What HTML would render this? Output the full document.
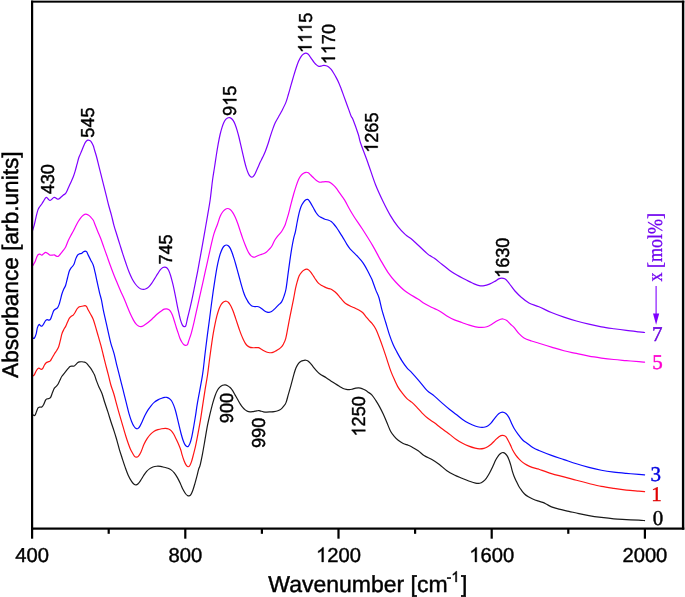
<!DOCTYPE html>
<html><head><meta charset="utf-8"><title>FTIR absorbance spectra</title>
<style>
html,body{margin:0;padding:0;background:#fff;}
body{width:685px;height:597px;overflow:hidden;font-family:"Liberation Sans",sans-serif;}
svg{display:block;will-change:transform;}
.t{font-family:"Liberation Sans",sans-serif;fill:#000;stroke:#000;stroke-width:0.42;text-rendering:geometricPrecision;}
.g1{vector-effect:non-scaling-stroke;}
.s{font-family:"Liberation Serif",serif;text-rendering:geometricPrecision;}
.c{fill:none;stroke-width:1.2;stroke-linejoin:round;stroke-linecap:round;}
</style></head><body>
<svg width="685" height="597" viewBox="0 0 685 597">
<rect x="0" y="0" width="685" height="597" fill="#fff"/>
<g class="c">
<path stroke="#1a1a1a" d="M32.76 414.87C33.12 414.97 34.28 416.00 34.91 415.43C35.53 414.85 36.01 412.66 36.54 411.41C37.06 410.15 37.48 408.63 38.04 407.89C38.61 407.16 39.30 407.16 39.93 407.02C40.55 406.87 41.18 407.43 41.81 407.02C42.44 406.60 43.07 405.65 43.69 404.50C44.32 403.35 45.01 401.05 45.58 400.11C46.14 399.17 46.56 399.11 47.08 398.85C47.61 398.60 48.13 398.85 48.72 398.60C49.30 398.35 49.97 398.35 50.60 397.35C51.23 396.34 51.85 394.10 52.48 392.58C53.11 391.05 53.74 389.23 54.37 388.18C54.99 387.14 55.62 386.99 56.25 386.30C56.88 385.61 57.50 385.09 58.13 384.04C58.76 382.99 59.39 381.32 60.02 380.02C60.64 378.72 60.96 377.67 61.90 376.26C62.84 374.85 64.62 372.87 65.66 371.56C66.71 370.26 67.44 369.26 68.18 368.42C68.91 367.59 69.43 366.92 70.06 366.54C70.69 366.16 71.31 366.23 71.94 366.16C72.57 366.10 73.20 366.42 73.83 366.16C74.45 365.91 75.08 365.22 75.71 364.66C76.34 364.09 76.96 363.23 77.59 362.77C78.22 362.31 78.74 362.06 79.48 361.90C80.21 361.73 81.15 361.73 81.99 361.77C82.82 361.81 83.76 361.92 84.50 362.15C85.23 362.38 85.75 362.63 86.38 363.15C87.01 363.67 87.53 364.41 88.26 365.29C89.00 366.16 90.04 367.38 90.77 368.42C91.51 369.47 92.03 370.47 92.66 371.56C93.29 372.65 93.91 373.44 94.54 374.95C95.17 376.47 95.69 378.65 96.42 380.65C97.16 382.65 97.99 384.73 98.94 386.93C99.88 389.12 101.13 391.32 102.07 393.83C103.02 396.34 103.64 399.06 104.59 401.99C105.53 404.92 106.68 408.17 107.72 411.41C108.77 414.65 109.82 418.21 110.86 421.45C111.91 424.70 113.06 427.94 114.00 430.87C114.94 433.80 115.62 435.95 116.51 439.03C117.40 442.11 118.39 446.17 119.34 449.37C120.28 452.57 121.17 455.16 122.16 458.20C123.15 461.25 124.25 464.69 125.30 467.62C126.35 470.55 127.39 473.48 128.44 475.78C129.48 478.08 130.64 480.03 131.58 481.43C132.52 482.83 133.36 483.63 134.09 484.19C134.82 484.76 135.34 484.86 135.97 484.82C136.60 484.78 137.12 484.61 137.85 483.94C138.59 483.27 139.42 482.16 140.37 480.80C141.31 479.44 142.46 477.35 143.50 475.78C144.55 474.21 145.60 472.58 146.64 471.39C147.69 470.19 148.74 469.36 149.78 468.63C150.83 467.89 151.77 467.39 152.92 466.99C154.07 466.60 155.43 466.34 156.69 466.24C157.94 466.14 159.20 466.20 160.45 466.37C161.71 466.53 162.96 466.93 164.22 467.24C165.48 467.56 166.84 467.81 167.99 468.25C169.14 468.69 170.08 469.11 171.12 469.88C172.17 470.65 173.22 471.60 174.26 472.89C175.31 474.19 176.36 475.82 177.40 477.66C178.45 479.51 179.60 481.95 180.54 483.94C181.48 485.93 182.22 487.96 183.05 489.59C183.89 491.22 184.83 492.75 185.56 493.74C186.30 494.72 186.86 495.14 187.45 495.49C188.03 495.85 188.51 496.02 189.08 495.87C189.64 495.72 190.21 495.56 190.84 494.61C191.46 493.67 192.15 492.10 192.84 490.22C193.54 488.34 194.31 485.62 194.98 483.31C195.65 481.01 196.23 478.82 196.86 476.41C197.49 474.00 198.22 470.66 198.75 468.88C199.27 467.09 199.37 468.23 200.00 465.72C200.63 463.20 201.73 457.84 202.51 453.79C203.30 449.73 203.87 446.15 204.71 441.39C205.55 436.63 206.64 429.80 207.53 425.22C208.42 420.64 209.21 417.48 210.04 413.92C210.88 410.36 211.72 406.91 212.55 403.88C213.39 400.84 214.23 398.02 215.07 395.72C215.90 393.41 216.74 391.53 217.58 390.07C218.41 388.60 219.25 387.72 220.09 386.93C220.92 386.13 221.76 385.65 222.60 385.30C223.44 384.94 224.27 384.73 225.11 384.79C225.95 384.86 226.78 385.21 227.62 385.67C228.46 386.13 229.29 386.72 230.13 387.55C230.97 388.39 231.81 389.44 232.64 390.69C233.48 391.95 234.32 393.62 235.15 395.09C235.99 396.55 236.83 398.02 237.66 399.48C238.50 400.95 239.34 402.56 240.18 403.88C241.01 405.19 241.85 406.39 242.69 407.39C243.52 408.40 244.36 409.23 245.20 409.90C246.03 410.57 246.87 411.10 247.71 411.41C248.55 411.72 249.38 411.74 250.22 411.79C251.06 411.83 251.89 411.77 252.73 411.66C253.57 411.56 254.40 411.30 255.24 411.16C256.08 411.01 257.12 410.89 257.75 410.78C258.38 410.68 258.49 410.47 259.01 410.53C259.53 410.59 260.16 410.95 260.89 411.16C261.62 411.37 262.46 411.64 263.40 411.79C264.34 411.93 265.39 412.02 266.54 412.04C267.69 412.06 269.05 411.97 270.31 411.91C271.56 411.85 272.82 411.85 274.07 411.66C275.33 411.47 276.69 411.20 277.84 410.78C278.99 410.36 280.04 409.88 280.98 409.15C281.92 408.42 282.65 407.48 283.49 406.39C284.33 405.30 285.16 404.71 286.00 402.62C286.84 400.53 287.67 396.76 288.51 393.83C289.35 390.90 290.08 388.45 291.02 385.04C291.96 381.64 293.32 376.30 294.16 373.42C295.00 370.55 295.31 369.45 296.04 367.77C296.78 366.10 297.72 364.47 298.55 363.38C299.39 362.29 300.23 361.73 301.07 361.25C301.90 360.76 302.78 360.66 303.58 360.49C304.37 360.33 305.10 360.14 305.84 360.24C306.57 360.35 307.20 360.60 307.97 361.12C308.75 361.64 309.65 362.48 310.48 363.38C311.32 364.28 312.05 365.37 312.99 366.52C313.93 367.67 315.09 369.13 316.13 370.29C317.18 371.44 317.60 372.18 319.27 373.42C320.94 374.67 324.29 376.56 326.18 377.76C328.06 378.97 329.11 379.69 330.57 380.65C332.03 381.61 333.50 382.60 334.96 383.54C336.43 384.48 338.00 385.48 339.36 386.30C340.72 387.12 341.97 387.91 343.12 388.43C344.28 388.96 345.22 389.23 346.26 389.44C347.31 389.65 348.36 389.75 349.40 389.69C350.45 389.63 351.49 389.31 352.54 389.06C353.59 388.81 354.63 388.37 355.68 388.18C356.73 387.99 357.77 387.87 358.82 387.93C359.86 387.99 360.91 388.20 361.96 388.56C363.00 388.92 364.05 389.46 365.10 390.07C366.14 390.67 367.08 391.36 368.23 392.20C369.39 393.04 370.75 393.73 372.00 395.09C373.25 396.45 374.50 398.43 375.74 400.35C376.99 402.26 378.24 404.30 379.49 406.59C380.74 408.88 381.99 411.37 383.23 414.08C384.48 416.78 385.73 419.90 386.98 422.81C388.23 425.73 389.47 429.26 390.72 431.55C391.97 433.84 393.22 435.09 394.47 436.54C395.71 438.00 396.75 439.12 398.21 440.29C399.67 441.45 401.54 442.70 403.20 443.53C404.87 444.36 406.74 444.70 408.20 445.28C409.65 445.86 410.28 446.12 411.94 447.03C413.60 447.94 416.10 449.29 418.18 450.74C420.26 452.20 422.13 454.28 424.42 455.74C426.71 457.19 429.41 458.03 431.91 459.48C434.41 460.94 436.90 462.60 439.40 464.47C441.90 466.35 444.39 468.97 446.89 470.71C449.38 472.46 451.88 473.71 454.38 474.96C456.87 476.21 459.37 477.16 461.87 478.20C464.36 479.24 467.07 480.37 469.35 481.20C471.64 482.03 473.88 482.85 475.59 483.20C477.31 483.54 478.41 483.55 479.67 483.26C480.93 482.96 482.04 482.26 483.14 481.43C484.24 480.60 485.23 479.65 486.28 478.29C487.32 476.93 488.37 475.15 489.42 473.27C490.46 471.39 491.51 469.19 492.55 466.99C493.60 464.80 494.65 462.08 495.69 460.09C496.74 458.10 497.89 456.26 498.83 455.07C499.77 453.87 500.61 453.35 501.34 452.93C502.08 452.51 502.60 452.47 503.23 452.55C503.85 452.64 504.48 452.91 505.11 453.43C505.74 453.96 506.37 454.69 506.99 455.69C507.62 456.70 508.25 457.89 508.88 459.46C509.50 461.03 510.17 463.12 510.76 465.11C511.35 467.10 511.83 469.50 512.39 471.39C512.96 473.27 513.48 474.74 514.15 476.41C514.82 478.08 515.61 479.76 516.41 481.43C517.20 483.11 518.08 484.99 518.92 486.45C519.76 487.92 520.49 488.96 521.43 490.22C522.37 491.48 523.42 492.90 524.57 493.99C525.72 495.07 526.98 495.92 528.34 496.75C529.70 497.58 531.16 498.28 532.73 498.98C534.30 499.68 536.08 500.35 537.75 500.93C539.43 501.50 541.31 501.87 542.77 502.43C544.24 502.98 545.10 503.50 546.54 504.24C547.99 504.99 549.38 506.06 551.44 506.89C553.51 507.71 556.02 508.44 558.93 509.19C561.84 509.93 565.59 510.63 568.92 511.36C572.25 512.10 575.57 512.90 578.90 513.61C582.23 514.32 585.14 514.97 588.89 515.61C592.63 516.25 597.21 516.90 601.37 517.45C605.53 517.99 609.69 518.51 613.85 518.86C618.01 519.22 622.17 519.33 626.33 519.55C630.49 519.77 635.78 520.02 638.81 520.19C641.85 520.35 643.60 520.48 644.55 520.54"/>
<path stroke="#ff1414" d="M32.50 376.13C32.79 375.94 33.67 375.82 34.28 374.95C34.89 374.09 35.53 372.02 36.16 370.94C36.79 369.85 37.48 368.84 38.04 368.42C38.61 368.01 39.03 368.26 39.55 368.42C40.07 368.59 40.64 369.43 41.18 369.43C41.73 369.43 42.29 369.11 42.81 368.42C43.34 367.73 43.76 366.23 44.32 365.29C44.89 364.34 45.58 363.34 46.20 362.77C46.83 362.21 47.46 362.17 48.09 361.90C48.72 361.62 49.34 361.73 49.97 361.14C50.60 360.56 51.12 359.57 51.85 358.38C52.59 357.19 53.53 355.35 54.37 353.99C55.20 352.63 56.14 351.48 56.88 350.22C57.61 348.96 58.17 348.13 58.76 346.45C59.35 344.78 59.87 342.27 60.39 340.18C60.91 338.08 61.33 335.68 61.90 333.90C62.46 332.12 63.15 330.76 63.78 329.50C64.41 328.25 65.04 327.62 65.66 326.37C66.29 325.11 66.92 323.33 67.55 321.97C68.18 320.61 68.80 319.15 69.43 318.20C70.06 317.26 70.69 316.84 71.31 316.32C71.94 315.80 72.57 315.69 73.20 315.07C73.83 314.44 74.45 313.56 75.08 312.55C75.71 311.55 76.34 309.98 76.96 309.04C77.59 308.10 78.22 307.32 78.85 306.91C79.48 306.49 80.00 306.68 80.73 306.53C81.46 306.38 82.51 306.17 83.24 306.03C83.97 305.88 84.54 305.50 85.12 305.65C85.71 305.80 86.23 306.17 86.76 306.91C87.28 307.64 87.59 308.79 88.26 310.04C88.93 311.30 89.94 312.87 90.77 314.44C91.61 316.01 92.45 317.26 93.29 319.46C94.12 321.66 94.96 324.80 95.80 327.62C96.63 330.45 97.47 333.48 98.31 336.41C99.14 339.34 99.98 342.06 100.82 345.20C101.66 348.34 102.49 351.89 103.33 355.24C104.17 358.59 105.00 362.00 105.84 365.29C106.68 368.57 107.51 371.66 108.35 374.95C109.19 378.25 109.92 381.79 110.86 385.04C111.80 388.30 113.06 391.32 114.00 394.46C114.94 397.60 115.57 400.42 116.51 403.88C117.45 407.33 118.60 411.51 119.65 415.18C120.70 418.84 121.74 422.29 122.79 425.85C123.83 429.40 124.99 433.49 125.93 436.52C126.87 439.55 127.74 442.07 128.44 444.05C129.14 446.04 129.51 447.01 130.13 448.43C130.76 449.85 131.50 451.28 132.20 452.55C132.91 453.83 133.65 455.30 134.34 456.07C135.03 456.84 135.66 457.20 136.35 457.20C137.04 457.20 137.71 456.95 138.48 456.07C139.26 455.19 140.05 453.93 140.99 451.93C141.93 449.92 143.09 446.31 144.13 444.05C145.18 441.80 146.22 440.01 147.27 438.40C148.32 436.79 149.26 435.58 150.41 434.38C151.56 433.19 152.92 432.04 154.18 431.25C155.43 430.45 156.69 430.03 157.94 429.61C159.20 429.20 160.45 428.94 161.71 428.74C162.96 428.53 164.32 428.32 165.48 428.36C166.63 428.40 167.67 428.61 168.61 428.99C169.56 429.36 170.29 429.78 171.12 430.62C171.96 431.46 172.80 432.61 173.64 434.01C174.47 435.41 175.26 437.17 176.15 439.03C177.04 440.89 178.20 443.34 178.97 445.16C179.75 446.99 180.32 448.51 180.79 449.95C181.26 451.39 181.25 452.02 181.80 453.81C182.34 455.60 183.32 458.83 184.06 460.72C184.79 462.60 185.52 464.11 186.19 465.11C186.86 466.11 187.49 466.64 188.07 466.74C188.66 466.85 189.12 466.64 189.71 465.74C190.29 464.84 190.96 463.23 191.59 461.34C192.22 459.46 192.84 456.84 193.47 454.44C194.10 452.03 194.77 449.50 195.36 446.91C195.94 444.31 196.21 442.92 196.99 438.89C197.76 434.85 199.08 428.13 200.00 422.71C200.92 417.29 201.67 411.83 202.51 406.39C203.35 400.95 204.18 395.30 205.02 390.07C205.86 384.83 206.80 379.97 207.53 375.00C208.27 370.03 208.79 365.02 209.42 360.26C210.04 355.51 210.67 350.85 211.30 346.45C211.93 342.06 212.55 337.66 213.18 333.90C213.81 330.13 214.44 326.89 215.07 323.85C215.69 320.82 216.32 318.10 216.95 315.69C217.58 313.29 218.20 311.15 218.83 309.42C219.46 307.68 220.09 306.38 220.72 305.27C221.34 304.16 221.97 303.39 222.60 302.76C223.23 302.13 223.85 301.76 224.48 301.51C225.11 301.26 225.74 301.13 226.37 301.26C226.99 301.38 227.62 301.67 228.25 302.26C228.88 302.85 229.50 303.72 230.13 304.77C230.76 305.82 231.39 307.14 232.02 308.54C232.64 309.94 233.27 311.47 233.90 313.18C234.53 314.90 235.15 316.95 235.78 318.83C236.41 320.72 237.04 322.60 237.66 324.48C238.29 326.37 238.92 328.35 239.55 330.13C240.18 331.91 240.80 333.58 241.43 335.15C242.06 336.72 242.69 338.23 243.31 339.55C243.94 340.87 244.57 342.08 245.20 343.06C245.83 344.05 246.35 344.78 247.08 345.45C247.81 346.12 248.75 346.70 249.59 347.08C250.43 347.46 251.16 347.60 252.10 347.71C253.04 347.81 254.20 347.71 255.24 347.71C256.29 347.71 257.44 347.50 258.38 347.71C259.32 347.92 260.05 348.50 260.89 348.96C261.73 349.42 262.57 350.01 263.40 350.47C264.24 350.93 265.08 351.39 265.91 351.73C266.75 352.06 267.59 352.31 268.42 352.48C269.26 352.65 270.10 352.79 270.94 352.73C271.77 352.67 272.61 352.42 273.45 352.10C274.28 351.79 275.12 351.31 275.96 350.85C276.79 350.39 277.63 349.91 278.47 349.34C279.31 348.78 280.14 348.36 280.98 347.46C281.82 346.56 282.71 345.42 283.49 343.94C284.27 342.47 284.95 341.32 285.69 338.60C286.42 335.87 287.20 331.11 287.88 327.60C288.56 324.09 288.82 322.32 289.77 317.55C290.71 312.79 292.59 303.79 293.53 299.03C294.47 294.27 294.79 291.92 295.42 288.99C296.04 286.06 296.67 283.65 297.30 281.45C297.93 279.26 298.45 277.37 299.18 275.80C299.92 274.23 300.86 273.02 301.69 272.04C302.53 271.05 303.37 270.38 304.20 269.90C305.04 269.42 305.94 269.11 306.72 269.15C307.49 269.19 308.12 269.57 308.85 270.15C309.58 270.74 310.31 271.62 311.11 272.66C311.91 273.71 312.78 275.18 313.62 276.43C314.46 277.69 315.29 279.05 316.13 280.20C316.97 281.35 317.70 282.46 318.64 283.34C319.58 284.22 320.74 284.84 321.78 285.47C322.83 286.10 323.87 286.62 324.92 287.10C325.97 287.58 327.12 288.04 328.06 288.36C329.00 288.67 329.73 288.63 330.57 288.99C331.41 289.34 332.14 289.82 333.08 290.49C334.02 291.16 335.17 292.00 336.22 293.00C337.27 294.01 338.31 295.31 339.36 296.52C340.40 297.73 341.45 299.13 342.50 300.29C343.54 301.44 344.17 302.39 345.64 303.42C347.10 304.46 349.72 305.72 351.29 306.51C352.85 307.29 353.80 307.55 355.05 308.14C356.31 308.72 357.56 309.29 358.82 310.02C360.07 310.75 361.43 311.49 362.59 312.53C363.74 313.58 364.68 315.02 365.72 316.30C366.77 317.58 367.82 319.02 368.86 320.22C369.91 321.41 370.85 322.00 372.00 323.46C373.15 324.92 374.50 326.58 375.74 329.00C376.99 331.42 378.24 334.76 379.49 337.99C380.74 341.21 381.99 344.77 383.23 348.37C384.48 351.98 385.73 355.86 386.98 359.61C388.23 363.35 389.47 367.49 390.72 370.84C391.97 374.19 393.22 376.94 394.47 379.70C395.71 382.46 396.96 385.22 398.21 387.38C399.46 389.55 400.50 390.82 401.96 392.69C403.41 394.56 405.28 396.99 406.95 398.60C408.61 400.21 410.28 400.89 411.94 402.34C413.60 403.80 415.27 405.59 416.93 407.34C418.60 409.08 420.05 410.96 421.93 412.83C423.80 414.70 426.09 416.90 428.17 418.57C430.25 420.23 432.33 421.27 434.41 422.81C436.49 424.35 438.57 426.22 440.65 427.81C442.73 429.39 445.33 431.17 446.89 432.30C448.45 433.43 448.44 433.39 450.00 434.60C451.56 435.81 454.18 438.10 456.28 439.55C458.37 441.00 460.46 442.23 462.55 443.31C464.65 444.40 466.74 445.28 468.83 446.08C470.92 446.87 473.33 447.63 475.11 448.09C476.89 448.55 478.04 448.80 479.50 448.84C480.97 448.88 482.54 448.69 483.90 448.34C485.26 447.98 486.41 447.44 487.66 446.70C488.92 445.97 490.18 445.03 491.43 443.94C492.69 442.85 493.94 441.39 495.20 440.18C496.45 438.96 497.75 437.48 498.96 436.66C500.18 435.84 501.33 435.28 502.48 435.28C503.63 435.28 504.59 435.14 505.87 436.66C507.14 438.18 509.00 442.16 510.13 444.39C511.26 446.62 511.70 448.27 512.64 450.04C513.58 451.82 514.74 453.60 515.78 455.07C516.83 456.53 517.77 457.62 518.92 458.83C520.07 460.05 521.33 461.30 522.69 462.35C524.05 463.39 525.51 464.27 527.08 465.11C528.65 465.95 530.32 466.72 532.10 467.36C533.88 468.00 536.61 468.62 537.75 468.93C538.90 469.24 536.68 468.45 538.96 469.23C541.24 470.01 547.28 472.35 551.44 473.61C555.60 474.88 559.76 475.71 563.93 476.82C568.09 477.93 572.25 479.17 576.41 480.29C580.57 481.40 584.73 482.50 588.89 483.52C593.05 484.53 597.21 485.58 601.37 486.40C605.53 487.22 609.69 487.80 613.85 488.42C618.01 489.03 622.17 489.62 626.33 490.07C630.49 490.51 635.78 490.84 638.81 491.09C641.85 491.35 643.60 491.51 644.55 491.59"/>
<path stroke="#0a0aff" d="M32.50 337.44C32.79 337.58 33.67 338.88 34.28 338.29C34.89 337.70 35.64 335.68 36.16 333.90C36.68 332.12 36.93 329.19 37.42 327.62C37.90 326.05 38.53 324.80 39.05 324.48C39.57 324.17 40.05 325.47 40.55 325.74C41.06 326.01 41.54 326.43 42.06 326.11C42.58 325.80 43.11 324.75 43.69 323.85C44.28 322.95 45.01 321.41 45.58 320.72C46.14 320.03 46.56 319.82 47.08 319.71C47.61 319.61 48.17 320.13 48.72 320.09C49.26 320.05 49.82 320.19 50.35 319.46C50.87 318.73 51.29 317.16 51.85 315.69C52.42 314.23 53.11 311.78 53.74 310.67C54.37 309.56 54.99 309.52 55.62 309.04C56.25 308.56 56.92 308.56 57.50 307.78C58.09 307.01 58.65 305.70 59.14 304.39C59.62 303.09 59.93 301.68 60.39 299.95C60.85 298.23 61.33 295.87 61.90 294.05C62.46 292.23 63.15 290.49 63.78 289.03C64.41 287.57 65.04 287.15 65.66 285.26C66.29 283.38 66.92 280.14 67.55 277.73C68.18 275.32 68.80 272.50 69.43 270.83C70.06 269.15 70.58 268.73 71.31 267.69C72.05 266.64 73.09 266.01 73.83 264.55C74.56 263.08 75.08 260.47 75.71 258.90C76.34 257.33 76.96 255.97 77.59 255.13C78.22 254.29 78.85 254.15 79.48 253.88C80.10 253.60 80.73 253.81 81.36 253.50C81.99 253.19 82.61 252.39 83.24 251.99C83.87 251.60 84.54 251.11 85.12 251.11C85.71 251.11 86.23 251.32 86.76 251.99C87.28 252.66 87.59 253.77 88.26 255.13C88.93 256.49 89.94 258.48 90.77 260.15C91.61 261.83 92.55 263.08 93.29 265.18C94.02 267.27 94.54 269.99 95.17 272.71C95.80 275.43 96.32 278.15 97.05 281.50C97.78 284.85 98.83 289.72 99.56 292.80C100.30 295.87 100.82 297.08 101.45 299.95C102.07 302.83 102.60 306.48 103.33 310.04C104.06 313.61 105.00 317.58 105.84 321.34C106.68 325.11 107.51 328.98 108.35 332.64C109.19 336.30 109.92 339.86 110.86 343.31C111.80 346.77 113.06 349.91 114.00 353.36C114.94 356.81 115.63 360.43 116.51 364.03C117.39 367.63 118.44 371.66 119.27 374.95C120.11 378.25 120.74 380.64 121.53 383.79C122.33 386.94 123.21 390.48 124.04 393.83C124.88 397.18 125.72 400.53 126.55 403.88C127.39 407.22 128.23 410.99 129.07 413.92C129.90 416.85 130.74 419.36 131.58 421.45C132.41 423.55 133.29 425.28 134.09 426.48C134.88 427.67 135.68 428.30 136.35 428.61C137.02 428.92 137.48 428.82 138.11 428.36C138.73 427.90 139.42 427.00 140.11 425.85C140.80 424.70 141.47 423.13 142.25 421.45C143.02 419.78 143.82 417.69 144.76 415.80C145.70 413.92 146.85 411.83 147.90 410.15C148.94 408.48 149.99 407.06 151.04 405.76C152.08 404.46 153.02 403.35 154.18 402.37C155.33 401.39 156.69 400.55 157.94 399.86C159.20 399.17 160.56 398.65 161.71 398.23C162.86 397.81 164.01 397.49 164.85 397.35C165.68 397.20 166.00 397.16 166.73 397.35C167.46 397.54 168.45 397.91 169.24 398.48C170.04 399.04 170.77 399.63 171.50 400.74C172.23 401.85 172.97 403.46 173.64 405.13C174.31 406.81 174.89 408.58 175.52 410.78C176.15 412.98 176.77 415.70 177.40 418.31C178.03 420.93 178.66 423.86 179.29 426.48C179.91 429.09 180.54 431.71 181.17 434.01C181.80 436.31 182.42 438.51 183.05 440.29C183.68 442.06 184.31 443.63 184.94 444.68C185.56 445.73 186.25 446.29 186.82 446.56C187.38 446.84 187.80 446.84 188.33 446.31C188.85 445.79 189.37 445.06 189.96 443.42C190.54 441.79 191.21 439.34 191.84 436.52C192.47 433.69 193.10 430.03 193.72 426.48C194.35 422.92 194.98 419.15 195.61 415.18C196.23 411.20 196.34 409.32 197.49 402.62C198.64 395.92 201.26 383.06 202.51 374.95C203.77 366.85 204.18 360.83 205.02 353.99C205.86 347.14 206.80 339.57 207.53 333.90C208.27 328.23 208.79 324.73 209.42 319.95C210.04 315.18 210.67 310.01 211.30 305.26C211.93 300.51 212.55 295.85 213.18 291.45C213.81 287.06 214.44 282.87 215.07 278.90C215.69 274.92 216.32 270.95 216.95 267.60C217.58 264.25 218.20 261.32 218.83 258.81C219.46 256.30 220.09 254.31 220.72 252.53C221.34 250.75 221.97 249.27 222.60 248.14C223.23 247.01 223.85 246.28 224.48 245.75C225.11 245.23 225.74 245.00 226.37 245.00C226.99 245.00 227.62 245.23 228.25 245.75C228.88 246.28 229.50 247.01 230.13 248.14C230.76 249.27 231.39 250.86 232.02 252.53C232.64 254.21 233.27 256.19 233.90 258.18C234.53 260.17 235.15 262.26 235.78 264.46C236.41 266.66 237.04 269.06 237.66 271.37C238.29 273.67 238.92 275.97 239.55 278.27C240.18 280.57 240.80 282.98 241.43 285.18C242.06 287.37 242.69 289.57 243.31 291.45C243.94 293.34 244.57 295.05 245.20 296.48C245.83 297.90 246.45 298.89 247.08 300.00C247.71 301.11 248.23 302.20 248.96 303.14C249.70 304.08 250.64 305.08 251.48 305.65C252.31 306.21 253.04 306.38 253.99 306.53C254.93 306.68 256.18 306.40 257.12 306.53C258.07 306.65 258.80 306.86 259.64 307.28C260.47 307.70 261.31 308.43 262.15 309.04C262.98 309.65 263.82 310.40 264.66 310.92C265.49 311.45 266.44 311.93 267.17 312.18C267.90 312.43 268.32 312.53 269.05 312.43C269.78 312.32 270.73 312.05 271.56 311.55C272.40 311.05 273.24 310.19 274.07 309.42C274.91 308.64 275.75 307.74 276.59 306.91C277.42 306.07 278.26 305.23 279.10 304.39C279.93 303.56 280.77 303.31 281.61 301.88C282.44 300.46 283.39 298.00 284.12 295.85C284.85 293.70 285.37 292.43 286.00 288.99C286.63 285.54 287.26 279.78 287.88 275.18C288.51 270.57 289.14 265.76 289.77 261.37C290.39 256.97 291.02 252.58 291.65 248.81C292.28 245.04 292.91 241.64 293.53 238.77C294.16 235.89 294.79 234.42 295.42 231.54C296.04 228.66 296.67 224.64 297.30 221.50C297.93 218.36 298.55 215.22 299.18 212.71C299.81 210.20 300.33 208.21 301.07 206.43C301.80 204.65 302.78 203.15 303.58 202.04C304.37 200.93 305.17 200.22 305.84 199.78C306.51 199.34 307.03 199.23 307.59 199.40C308.16 199.57 308.64 200.03 309.23 200.78C309.81 201.53 310.38 202.66 311.11 203.92C311.84 205.18 312.78 206.85 313.62 208.31C314.46 209.78 315.29 211.45 316.13 212.71C316.97 213.96 317.70 215.01 318.64 215.85C319.58 216.68 320.74 217.17 321.78 217.73C322.83 218.30 323.77 218.82 324.92 219.24C326.07 219.66 327.64 219.87 328.69 220.24C329.73 220.62 330.36 220.87 331.20 221.50C332.03 222.12 332.87 223.07 333.71 224.01C334.55 224.95 335.38 226.00 336.22 227.15C337.06 228.30 337.79 229.45 338.73 230.91C339.67 232.38 340.93 234.43 341.87 235.94C342.81 237.44 343.54 238.54 344.38 239.95C345.22 241.37 345.95 242.94 346.89 244.42C347.83 245.89 348.88 247.45 350.03 248.81C351.18 250.17 352.54 251.32 353.80 252.58C355.05 253.83 356.31 254.98 357.56 256.34C358.82 257.70 360.18 259.27 361.33 260.74C362.48 262.20 363.42 263.46 364.47 265.13C365.51 266.81 366.67 269.00 367.61 270.78C368.55 272.56 369.39 274.34 370.12 275.80C370.85 277.27 371.06 277.22 372.00 279.57C372.94 281.92 374.58 286.88 375.74 289.91C376.91 292.95 377.95 294.42 378.99 297.79C380.03 301.17 380.86 306.03 381.99 310.15C383.11 314.27 384.48 318.39 385.73 322.50C386.98 326.62 388.23 331.16 389.47 334.86C390.72 338.56 391.97 341.85 393.22 344.72C394.47 347.60 395.51 349.43 396.96 352.12C398.42 354.81 400.29 358.23 401.96 360.85C403.62 363.48 405.28 365.85 406.95 367.84C408.61 369.84 409.86 370.59 411.94 372.84C414.02 375.08 416.93 378.40 419.43 381.32C421.93 384.24 424.42 387.90 426.92 390.36C429.41 392.83 431.91 394.02 434.41 396.10C436.90 398.18 439.35 400.62 441.90 402.84C444.44 405.07 447.29 407.51 449.69 409.44C452.09 411.37 454.13 412.77 456.28 414.44C458.42 416.11 460.46 418.00 462.55 419.46C464.65 420.92 466.74 422.14 468.83 423.23C470.92 424.31 473.23 425.32 475.11 425.99C476.99 426.66 478.67 427.03 480.13 427.24C481.60 427.45 482.64 427.45 483.90 427.24C485.15 427.03 486.41 426.76 487.66 425.99C488.92 425.21 490.18 424.00 491.43 422.60C492.69 421.20 493.94 419.08 495.20 417.58C496.45 416.07 497.75 414.46 498.96 413.56C500.18 412.66 501.33 412.18 502.48 412.18C503.63 412.18 504.78 412.66 505.87 413.56C506.96 414.46 508.07 415.97 509.01 417.58C509.95 419.19 510.68 421.45 511.52 423.23C512.36 425.01 512.98 426.47 514.03 428.25C515.08 430.03 516.35 431.94 517.80 433.90C519.24 435.86 521.03 438.36 522.69 440.00C524.34 441.64 525.96 442.47 527.71 443.77C529.46 445.06 531.32 446.66 533.20 447.78C535.08 448.90 535.92 449.24 538.96 450.51C542.00 451.78 547.28 453.88 551.44 455.39C555.60 456.90 559.76 458.19 563.93 459.59C568.09 460.99 572.25 462.48 576.41 463.79C580.57 465.10 584.73 466.37 588.89 467.45C593.05 468.52 597.21 469.46 601.37 470.24C605.53 471.02 609.69 471.60 613.85 472.12C618.01 472.64 622.17 473.00 626.33 473.37C630.49 473.74 635.78 474.12 638.81 474.37C641.85 474.62 643.60 474.78 644.55 474.87"/>
<path stroke="#f800f4" d="M32.63 265.81C33.01 265.18 34.21 263.50 34.91 262.04C35.60 260.57 36.22 258.27 36.79 257.02C37.35 255.76 37.77 254.99 38.30 254.50C38.82 254.02 39.34 254.02 39.93 254.13C40.51 254.23 41.18 255.22 41.81 255.13C42.44 255.05 43.07 254.09 43.69 253.63C44.32 253.16 44.95 252.43 45.58 252.37C46.20 252.31 46.73 252.79 47.46 253.25C48.19 253.71 49.13 254.82 49.97 255.13C50.81 255.45 51.75 255.17 52.48 255.13C53.21 255.09 53.74 254.71 54.37 254.88C54.99 255.05 55.62 255.89 56.25 256.14C56.88 256.39 57.50 256.66 58.13 256.39C58.76 256.12 59.28 255.34 60.02 254.50C60.75 253.67 61.58 252.62 62.53 251.37C63.47 250.11 64.72 248.75 65.66 246.97C66.61 245.19 67.34 242.58 68.18 240.69C69.01 238.81 69.85 237.24 70.69 235.67C71.52 234.10 72.26 233.06 73.20 231.28C74.14 229.50 75.50 226.62 76.34 225.00C77.17 223.38 77.49 222.76 78.22 221.56C78.95 220.36 79.89 218.84 80.73 217.80C81.57 216.75 82.40 215.91 83.24 215.29C84.08 214.66 84.92 214.07 85.75 214.03C86.59 213.99 87.43 214.51 88.26 215.03C89.10 215.56 89.94 216.29 90.77 217.17C91.61 218.05 92.55 219.00 93.29 220.31C94.02 221.61 94.44 223.17 95.17 225.00C95.90 226.83 96.74 228.98 97.68 231.28C98.62 233.58 99.77 236.09 100.82 238.81C101.86 241.53 102.91 244.67 103.96 247.60C105.00 250.53 106.05 253.46 107.10 256.39C108.14 259.32 109.08 262.04 110.23 265.18C111.39 268.31 112.85 272.29 114.00 275.22C115.15 278.15 116.09 280.24 117.14 282.75C118.18 285.26 119.02 287.42 120.28 290.29C121.53 293.15 123.52 297.29 124.67 299.95C125.82 302.62 126.24 303.97 127.18 306.28C128.12 308.59 129.28 311.51 130.32 313.81C131.37 316.11 132.52 318.41 133.46 320.09C134.40 321.76 135.13 322.87 135.97 323.85C136.81 324.84 137.65 325.53 138.48 325.99C139.32 326.45 140.16 326.66 140.99 326.62C141.83 326.57 142.56 326.24 143.50 325.74C144.45 325.24 145.49 324.48 146.64 323.60C147.79 322.72 149.15 321.57 150.41 320.46C151.66 319.36 152.92 318.10 154.18 316.95C155.43 315.80 156.69 314.61 157.94 313.56C159.20 312.51 160.66 311.40 161.71 310.67C162.75 309.94 163.42 309.48 164.22 309.17C165.01 308.85 165.75 308.75 166.48 308.79C167.21 308.83 167.94 309.00 168.61 309.42C169.28 309.83 169.87 310.36 170.50 311.30C171.12 312.24 171.75 313.50 172.38 315.07C173.01 316.64 173.64 318.73 174.26 320.72C174.89 322.70 175.52 325.01 176.15 326.99C176.77 328.98 177.40 330.76 178.03 332.64C178.66 334.53 179.29 336.72 179.91 338.29C180.54 339.86 181.17 341.01 181.80 342.06C182.42 343.11 183.05 344.01 183.68 344.57C184.31 345.13 184.94 345.45 185.56 345.45C186.19 345.45 186.91 345.38 187.45 344.57C187.99 343.76 188.16 342.51 188.81 340.60C189.45 338.68 190.48 335.99 191.32 333.07C192.16 330.14 192.99 326.58 193.83 323.02C194.67 319.47 195.50 315.49 196.34 311.72C197.18 307.96 198.01 304.19 198.85 300.43C199.69 296.66 200.53 292.89 201.36 289.13C202.20 285.36 203.04 281.60 203.87 277.83C204.71 274.06 205.55 270.30 206.38 266.53C207.22 262.77 208.06 259.00 208.89 255.23C209.73 251.47 210.57 247.49 211.40 243.94C212.24 240.38 212.89 237.23 213.92 233.89C214.94 230.56 216.55 226.86 217.58 223.94C218.61 221.03 219.25 218.40 220.09 216.41C220.92 214.42 221.76 213.17 222.60 212.02C223.44 210.86 224.27 210.09 225.11 209.50C225.95 208.92 226.78 208.50 227.62 208.50C228.46 208.50 229.29 208.86 230.13 209.50C230.97 210.15 231.81 211.14 232.64 212.39C233.48 213.65 234.32 215.22 235.15 217.04C235.99 218.86 236.83 221.01 237.66 223.31C238.50 225.62 239.34 228.34 240.18 230.85C241.01 233.36 241.85 236.02 242.69 238.38C243.52 240.74 244.47 243.16 245.20 245.00C245.93 246.84 246.45 248.03 247.08 249.39C247.71 250.75 248.34 252.11 248.96 253.16C249.59 254.21 250.22 255.04 250.85 255.67C251.48 256.30 252.10 256.68 252.73 256.93C253.36 257.18 253.88 257.32 254.61 257.18C255.35 257.03 256.18 256.45 257.12 256.05C258.07 255.65 259.22 255.17 260.26 254.79C261.31 254.42 262.36 254.27 263.40 253.79C264.45 253.31 265.60 252.64 266.54 251.91C267.48 251.17 268.22 250.29 269.05 249.39C269.89 248.49 270.62 248.03 271.56 246.51C272.50 244.98 273.66 242.04 274.70 240.26C275.75 238.49 276.69 237.33 277.84 235.87C278.99 234.40 280.46 233.15 281.61 231.48C282.76 229.80 284.01 227.38 284.75 225.83C285.48 224.27 285.37 224.10 286.00 222.12C286.63 220.15 287.67 217.00 288.51 213.96C289.35 210.93 290.18 207.16 291.02 203.92C291.86 200.68 292.70 197.43 293.53 194.50C294.37 191.57 295.21 188.85 296.04 186.34C296.88 183.83 297.72 181.28 298.55 179.44C299.39 177.60 300.23 176.34 301.07 175.30C301.90 174.25 302.74 173.66 303.58 173.16C304.41 172.66 305.29 172.34 306.09 172.28C306.88 172.22 307.62 172.37 308.35 172.78C309.08 173.20 309.71 174.04 310.48 174.79C311.26 175.55 312.05 176.38 312.99 177.30C313.93 178.22 315.09 179.50 316.13 180.32C317.18 181.13 318.22 181.93 319.27 182.20C320.32 182.47 321.36 182.03 322.41 181.95C323.46 181.87 324.50 181.70 325.55 181.70C326.59 181.70 327.75 181.70 328.69 181.95C329.63 182.20 330.36 182.64 331.20 183.20C332.03 183.77 332.87 184.50 333.71 185.34C334.55 186.18 335.28 187.01 336.22 188.23C337.16 189.44 337.98 190.68 339.36 192.62C340.74 194.57 342.84 197.22 344.50 199.90C346.16 202.58 347.70 205.90 349.30 208.70C350.90 211.50 351.95 213.35 354.10 216.70C356.25 220.05 359.06 223.90 362.20 228.80C365.34 233.70 369.91 240.93 372.96 246.11C376.00 251.28 377.95 255.47 380.44 259.84C382.94 264.20 385.44 268.67 387.93 272.32C390.43 275.97 392.51 278.58 395.42 281.74C398.33 284.90 401.66 288.40 405.41 291.28C409.15 294.16 414.72 296.99 417.89 299.03C421.06 301.06 422.08 302.08 424.42 303.49C426.76 304.90 429.41 306.25 431.91 307.49C434.41 308.73 436.90 309.52 439.40 310.93C441.90 312.34 444.39 314.46 446.89 315.94C449.38 317.42 451.88 318.74 454.38 319.83C456.87 320.93 459.37 321.62 461.87 322.51C464.36 323.40 467.07 324.47 469.35 325.19C471.64 325.91 473.51 326.44 475.59 326.82C477.67 327.20 479.96 327.47 481.84 327.45C483.71 327.43 485.16 327.25 486.83 326.71C488.49 326.17 490.16 325.17 491.82 324.21C493.48 323.25 495.36 321.80 496.81 320.97C498.27 320.13 499.52 319.55 500.56 319.22C501.60 318.89 502.01 318.76 503.05 318.97C504.09 319.18 505.55 319.59 506.80 320.47C508.05 321.34 509.34 323.05 510.54 324.21C511.74 325.37 512.59 325.85 514.00 327.43C515.41 329.01 517.33 331.92 518.99 333.67C520.66 335.42 521.90 336.70 523.99 337.91C526.07 339.13 528.98 340.08 531.47 340.97C533.97 341.85 535.63 342.22 538.96 343.24C542.29 344.26 547.28 345.82 551.44 347.08C555.60 348.34 559.76 349.73 563.93 350.79C568.09 351.85 572.25 352.54 576.41 353.43C580.57 354.32 584.73 355.36 588.89 356.13C593.05 356.90 597.21 357.47 601.37 358.04C605.53 358.60 609.69 359.09 613.85 359.52C618.01 359.95 622.17 360.25 626.33 360.61C630.49 360.98 635.78 361.47 638.81 361.72C641.85 361.97 643.60 362.05 644.55 362.12"/>
<path stroke="#7f00ff" d="M32.50 230.88C32.79 229.89 33.67 227.34 34.28 224.95C34.89 222.56 35.53 219.09 36.16 216.54C36.79 213.99 37.42 211.31 38.04 209.64C38.67 207.96 39.30 207.44 39.93 206.50C40.55 205.56 41.18 204.93 41.81 203.99C42.44 203.04 43.07 201.85 43.69 200.85C44.32 199.84 45.05 198.52 45.58 197.96C46.10 197.39 46.37 197.25 46.83 197.46C47.29 197.67 47.82 198.71 48.34 199.22C48.86 199.72 49.39 200.47 49.97 200.47C50.56 200.47 51.23 199.72 51.85 199.22C52.48 198.71 53.15 197.71 53.74 197.46C54.32 197.21 54.80 197.46 55.37 197.71C55.93 197.96 56.56 198.75 57.13 198.96C57.69 199.17 58.17 199.22 58.76 198.96C59.35 198.71 59.91 198.09 60.64 197.46C61.38 196.83 62.32 195.89 63.15 195.20C63.99 194.51 64.83 194.47 65.66 193.31C66.50 192.16 67.34 190.07 68.18 188.29C69.01 186.51 69.85 184.53 70.69 182.64C71.52 180.76 72.47 178.88 73.20 176.99C73.93 175.11 74.45 173.44 75.08 171.34C75.71 169.25 76.34 166.74 76.96 164.44C77.59 162.14 78.22 159.42 78.85 157.53C79.48 155.65 79.79 155.40 80.73 153.14C81.67 150.87 83.56 145.96 84.50 143.94C85.44 141.93 85.79 141.68 86.38 141.05C86.97 140.43 87.45 140.26 88.01 140.18C88.58 140.09 89.21 140.24 89.77 140.55C90.34 140.87 90.82 141.18 91.40 142.06C91.99 142.94 92.76 144.50 93.29 145.83C93.81 147.15 94.02 148.26 94.54 150.00C95.06 151.74 95.69 153.56 96.42 156.28C97.16 159.00 98.10 162.97 98.94 166.32C99.77 169.67 100.61 173.02 101.45 176.37C102.28 179.71 103.12 183.06 103.96 186.41C104.79 189.76 105.63 193.11 106.47 196.45C107.31 199.80 108.14 203.36 108.98 206.50C109.82 209.64 110.65 212.10 111.49 215.29C112.33 218.47 113.16 222.54 114.00 225.63C114.84 228.71 115.57 230.75 116.51 233.79C117.45 236.82 118.60 240.48 119.65 243.83C120.70 247.18 121.74 250.63 122.79 253.88C123.83 257.12 124.88 260.26 125.93 263.29C126.97 266.33 128.02 269.47 129.07 272.08C130.11 274.70 131.16 277.00 132.20 278.99C133.25 280.97 134.30 282.61 135.34 284.01C136.39 285.41 137.54 286.56 138.48 287.40C139.42 288.23 140.16 288.70 140.99 289.03C141.83 289.36 142.67 289.45 143.50 289.41C144.34 289.36 145.18 289.16 146.02 288.78C146.85 288.40 147.58 288.05 148.53 287.15C149.47 286.25 150.62 284.85 151.66 283.38C152.71 281.92 153.76 280.03 154.80 278.36C155.85 276.68 157.00 274.80 157.94 273.34C158.88 271.87 159.62 270.55 160.45 269.57C161.29 268.59 162.23 267.85 162.96 267.44C163.70 267.02 164.22 267.02 164.85 267.06C165.48 267.10 166.10 267.16 166.73 267.69C167.36 268.21 167.99 268.94 168.61 270.20C169.24 271.45 169.87 273.23 170.50 275.22C171.12 277.21 171.75 279.61 172.38 282.12C173.01 284.64 173.43 286.26 174.26 290.29C175.10 294.31 176.61 302.36 177.40 306.28C178.20 310.20 178.51 311.51 179.03 313.81C179.56 316.11 179.98 318.20 180.54 320.09C181.11 321.97 181.84 324.02 182.42 325.11C183.01 326.20 183.49 326.51 184.06 326.62C184.62 326.72 185.23 327.17 185.81 325.74C186.40 324.30 186.85 320.96 187.55 318.00C188.26 315.04 189.23 311.52 190.06 307.96C190.90 304.40 191.74 300.64 192.57 296.66C193.41 292.69 194.25 288.29 195.09 284.11C195.92 279.92 196.76 275.95 197.60 271.55C198.43 267.16 199.27 262.35 200.11 257.75C200.94 253.14 201.78 248.62 202.62 243.94C203.45 239.25 204.29 234.44 205.13 229.63C205.96 224.81 206.80 220.00 207.64 215.06C208.48 210.13 209.33 205.85 210.15 200.00C210.97 194.15 211.84 185.35 212.55 179.98C213.27 174.61 213.81 171.90 214.44 167.77C215.07 163.65 215.69 159.20 216.32 155.22C216.95 151.24 217.58 147.37 218.20 143.92C218.83 140.47 219.46 137.22 220.09 134.50C220.72 131.78 221.34 129.59 221.97 127.60C222.60 125.61 223.23 123.94 223.85 122.58C224.48 121.22 225.11 120.21 225.74 119.44C226.37 118.66 226.99 118.25 227.62 117.93C228.25 117.62 228.88 117.45 229.50 117.55C230.13 117.66 230.76 118.04 231.39 118.56C232.02 119.08 232.64 119.71 233.27 120.69C233.90 121.68 234.53 122.89 235.15 124.46C235.78 126.03 236.41 128.02 237.04 130.11C237.66 132.20 238.29 134.50 238.92 137.02C239.55 139.53 240.18 142.46 240.80 145.18C241.43 147.90 242.06 150.62 242.69 153.34C243.31 156.06 243.94 158.99 244.57 161.50C245.20 164.01 245.83 166.41 246.45 168.40C247.08 170.39 247.71 172.11 248.34 173.42C248.96 174.74 249.65 175.68 250.22 176.31C250.78 176.94 251.20 177.19 251.73 177.19C252.25 177.19 252.77 176.94 253.36 176.31C253.94 175.68 254.51 174.85 255.24 173.42C255.97 172.00 256.92 169.66 257.75 167.77C258.59 165.89 259.43 163.90 260.26 162.12C261.10 160.35 261.94 158.88 262.77 157.10C263.61 155.32 264.45 153.55 265.29 151.45C266.12 149.36 266.96 147.06 267.80 144.55C268.63 142.04 269.47 139.00 270.31 136.39C271.14 133.77 271.98 131.16 272.82 128.85C273.66 126.55 274.39 124.56 275.33 122.58C276.27 120.59 277.42 118.81 278.47 116.93C279.51 115.04 280.35 113.74 281.61 111.28C282.86 108.81 284.85 105.01 286.00 102.12C287.15 99.24 287.67 96.79 288.51 93.96C289.35 91.14 290.18 88.11 291.02 85.18C291.86 82.25 292.70 79.21 293.53 76.39C294.37 73.56 295.21 70.74 296.04 68.23C296.88 65.72 297.72 63.27 298.55 61.32C299.39 59.38 300.23 57.76 301.07 56.55C301.90 55.34 302.78 54.60 303.58 54.04C304.37 53.47 305.10 53.16 305.84 53.16C306.57 53.16 307.30 53.52 307.97 54.04C308.64 54.56 309.23 55.46 309.85 56.30C310.48 57.14 311.01 58.02 311.74 59.06C312.47 60.11 313.41 61.57 314.25 62.58C315.09 63.58 315.99 64.46 316.76 65.09C317.53 65.72 318.16 66.18 318.89 66.34C319.63 66.51 320.36 66.26 321.15 66.09C321.95 65.92 322.83 65.40 323.66 65.34C324.50 65.28 325.34 65.44 326.18 65.72C327.01 65.99 327.85 66.34 328.69 66.97C329.52 67.60 330.36 68.44 331.20 69.48C332.03 70.53 332.87 71.89 333.71 73.25C334.55 74.61 335.38 76.07 336.22 77.64C337.06 79.21 337.89 80.78 338.73 82.66C339.57 84.55 340.40 86.75 341.24 88.94C342.08 91.14 342.92 93.55 343.75 95.85C344.59 98.15 345.43 100.45 346.26 102.75C347.10 105.05 347.94 107.36 348.77 109.66C349.61 111.96 350.60 114.96 351.29 116.56C351.97 118.16 351.74 116.31 352.91 119.26C354.07 122.22 357.00 130.39 358.26 134.30C359.53 138.20 358.86 137.91 360.47 142.69C362.09 147.46 365.47 155.95 367.96 162.93C370.46 169.91 372.96 178.16 375.45 184.55C377.95 190.94 380.44 196.10 382.94 201.28C385.44 206.46 387.93 211.40 390.43 215.63C392.93 219.86 395.42 223.50 397.92 226.67C400.41 229.84 402.91 232.40 405.41 234.66C407.90 236.91 409.31 237.09 412.90 240.20C416.48 243.32 423.33 250.33 426.92 253.35C430.50 256.37 431.91 256.49 434.41 258.31C436.90 260.14 439.40 262.30 441.90 264.28C444.39 266.25 446.89 268.35 449.38 270.16C451.88 271.96 454.38 273.61 456.87 275.09C459.37 276.58 462.17 277.94 464.36 279.07C466.55 280.21 468.38 281.09 470.00 281.89C471.62 282.69 472.55 283.24 474.09 283.86C475.62 284.49 477.49 285.35 479.20 285.65C480.90 285.96 482.60 285.94 484.31 285.69C486.01 285.44 487.71 284.84 489.42 284.16C491.12 283.48 492.99 282.49 494.52 281.60C496.06 280.72 497.42 279.44 498.61 278.85C499.80 278.25 500.66 278.03 501.68 278.03C502.70 278.03 503.72 278.25 504.74 278.85C505.77 279.44 506.79 280.46 507.81 281.60C508.83 282.75 509.68 284.12 510.87 285.69C512.07 287.26 513.19 289.04 514.96 291.01C516.73 292.97 519.15 295.48 521.49 297.47C523.82 299.47 526.07 301.41 528.98 302.97C531.89 304.52 535.22 305.20 538.96 306.79C542.71 308.38 547.28 310.79 551.44 312.51C555.60 314.23 559.76 315.71 563.93 317.13C568.09 318.55 572.25 319.85 576.41 321.03C580.57 322.20 584.73 323.21 588.89 324.18C593.05 325.15 597.21 326.07 601.37 326.83C605.53 327.59 609.69 328.15 613.85 328.74C618.01 329.34 622.17 329.90 626.33 330.42C630.49 330.95 635.78 331.54 638.81 331.89C641.85 332.24 643.60 332.41 644.55 332.51"/>
</g>
<g fill="#000">
<rect x="31" y="0.65" width="2.2" height="529.05"/>
<rect x="31" y="0.65" width="653.3" height="2.0"/>
<rect x="681.9" y="0.65" width="2.4" height="529.05"/>
<rect x="31" y="527.5" width="653.3" height="2.2"/>
<rect x="31.00" y="529" width="2.2" height="9.7"/>
<rect x="107.60" y="529" width="2.2" height="4.8"/>
<rect x="184.20" y="529" width="2.2" height="9.7"/>
<rect x="260.80" y="529" width="2.2" height="4.8"/>
<rect x="337.40" y="529" width="2.2" height="9.7"/>
<rect x="414.00" y="529" width="2.2" height="4.8"/>
<rect x="490.60" y="529" width="2.2" height="9.7"/>
<rect x="567.20" y="529" width="2.2" height="4.8"/>
<rect x="643.80" y="529" width="2.2" height="9.7"/>
</g>
<g class="t">
<g aria-label="400" transform="translate(32.10 561.90)" font-size="20.20"><text x="-16.85" y="0">400</text></g>
<g aria-label="800" transform="translate(185.30 561.90)" font-size="20.20"><text x="-16.85" y="0">800</text></g>
<g aria-label="1200" transform="translate(338.50 561.90)" font-size="20.20"><path class="g1" d="M763 0H583V-1147Q518 -1085 412.5 -1023Q307 -961 223 -930V-1104Q374 -1175 487 -1276Q600 -1377 647 -1472H763Z" transform="translate(-22.47 0) scale(0.00986)"/><text x="-11.23" y="0">200</text></g>
<g aria-label="1600" transform="translate(491.70 561.90)" font-size="20.20"><path class="g1" d="M763 0H583V-1147Q518 -1085 412.5 -1023Q307 -961 223 -930V-1104Q374 -1175 487 -1276Q600 -1377 647 -1472H763Z" transform="translate(-22.47 0) scale(0.00986)"/><text x="-11.23" y="0">600</text></g>
<g aria-label="2000" transform="translate(644.90 561.90)" font-size="20.20"><text x="-22.47" y="0">2000</text></g>
</g>
<text class="t" font-size="23" x="268.3" y="591.6">Wavenumber [cm</text>
<text class="t" font-size="14.7" x="446.5" y="581.9">-</text>
<g class="t"><path class="g1" d="M763 0H583V-1147Q518 -1085 412.5 -1023Q307 -961 223 -930V-1104Q374 -1175 487 -1276Q600 -1377 647 -1472H763Z" transform="translate(451.3 581.9) scale(0.00718)"/></g>
<text class="t" font-size="23" x="461" y="591.6">]</text>
<text class="t" font-size="22.65" transform="translate(18.3 377.9) rotate(-90)">Absorbance [arb.units]</text>
<g class="t">
<g aria-label="430" transform="translate(54.20 194.30) rotate(-90) scale(0.965 1)" font-size="18.80"><text x="0.00" y="0">430</text></g>
<g aria-label="545" transform="translate(94.10 137.70) rotate(-90) scale(0.965 1)" font-size="18.80"><text x="0.00" y="0">545</text></g>
<g aria-label="745" transform="translate(172.40 264.60) rotate(-90) scale(0.965 1)" font-size="18.80"><text x="0.00" y="0">745</text></g>
<g aria-label="915" transform="translate(236.40 115.90) rotate(-90) scale(0.965 1)" font-size="18.80"><text x="0.00" y="0">9</text><path class="g1" d="M763 0H583V-1147Q518 -1085 412.5 -1023Q307 -961 223 -930V-1104Q374 -1175 487 -1276Q600 -1377 647 -1472H763Z" transform="translate(10.46 0) scale(0.00918)"/><text x="20.91" y="0">5</text></g>
<g aria-label="1115" transform="translate(311.50 53.10) rotate(-90) scale(0.965 1)" font-size="18.80"><path class="g1" d="M763 0H583V-1147Q518 -1085 412.5 -1023Q307 -961 223 -930V-1104Q374 -1175 487 -1276Q600 -1377 647 -1472H763Z" transform="translate(0.00 0) scale(0.00918)"/><path class="g1" d="M763 0H583V-1147Q518 -1085 412.5 -1023Q307 -961 223 -930V-1104Q374 -1175 487 -1276Q600 -1377 647 -1472H763Z" transform="translate(10.46 0) scale(0.00918)"/><path class="g1" d="M763 0H583V-1147Q518 -1085 412.5 -1023Q307 -961 223 -930V-1104Q374 -1175 487 -1276Q600 -1377 647 -1472H763Z" transform="translate(20.91 0) scale(0.00918)"/><text x="31.37" y="0">5</text></g>
<g aria-label="1170" transform="translate(335.00 64.30) rotate(-90) scale(0.965 1)" font-size="18.80"><path class="g1" d="M763 0H583V-1147Q518 -1085 412.5 -1023Q307 -961 223 -930V-1104Q374 -1175 487 -1276Q600 -1377 647 -1472H763Z" transform="translate(0.00 0) scale(0.00918)"/><path class="g1" d="M763 0H583V-1147Q518 -1085 412.5 -1023Q307 -961 223 -930V-1104Q374 -1175 487 -1276Q600 -1377 647 -1472H763Z" transform="translate(10.46 0) scale(0.00918)"/><text x="20.91" y="0">70</text></g>
<g aria-label="1265" transform="translate(377.70 152.80) rotate(-90) scale(0.965 1)" font-size="18.80"><path class="g1" d="M763 0H583V-1147Q518 -1085 412.5 -1023Q307 -961 223 -930V-1104Q374 -1175 487 -1276Q600 -1377 647 -1472H763Z" transform="translate(0.00 0) scale(0.00918)"/><text x="10.46" y="0">265</text></g>
<g aria-label="1630" transform="translate(508.50 277.90) rotate(-90) scale(0.965 1)" font-size="18.80"><path class="g1" d="M763 0H583V-1147Q518 -1085 412.5 -1023Q307 -961 223 -930V-1104Q374 -1175 487 -1276Q600 -1377 647 -1472H763Z" transform="translate(0.00 0) scale(0.00918)"/><text x="10.46" y="0">630</text></g>
<g aria-label="900" transform="translate(233.10 423.20) rotate(-90) scale(0.965 1)" font-size="18.80"><text x="0.00" y="0">900</text></g>
<g aria-label="990" transform="translate(265.10 448.00) rotate(-90) scale(0.965 1)" font-size="18.80"><text x="0.00" y="0">990</text></g>
<g aria-label="1250" transform="translate(365.30 436.50) rotate(-90) scale(0.965 1)" font-size="18.80"><path class="g1" d="M763 0H583V-1147Q518 -1085 412.5 -1023Q307 -961 223 -930V-1104Q374 -1175 487 -1276Q600 -1377 647 -1472H763Z" transform="translate(0.00 0) scale(0.00918)"/><text x="10.46" y="0">250</text></g>
</g>
<g class="s" font-size="21" text-anchor="middle">
<text x="657.2" y="341.0" fill="#6a00e0" stroke="#6a00e0" stroke-width="0.45">7</text>
<text x="657.5" y="369.4" fill="#ff00d0" stroke="#ff00d0" stroke-width="0.45">5</text>
<text x="655.7" y="480.8" fill="#0000e0" stroke="#0000e0" stroke-width="0.45">3</text>
<text x="656.6" y="500.8" fill="#e00000" stroke="#e00000" stroke-width="0.45">1</text>
<text x="657.9" y="525.0" fill="#000" stroke="#000" stroke-width="0.45">0</text>
</g>
<text class="s" font-size="21" fill="#7000f0" stroke="#7000f0" stroke-width="0.3" transform="translate(661.7 281.4) rotate(-90) scale(0.856 1)">x [mol%]</text>
<path d="M656.1 286 V314" stroke="#7f00ff" stroke-width="1.1" fill="none"/>
<path d="M653 313.5 L659.2 313.5 L656.1 324.7 Z" fill="#7f00ff"/>
</svg>
</body></html>
